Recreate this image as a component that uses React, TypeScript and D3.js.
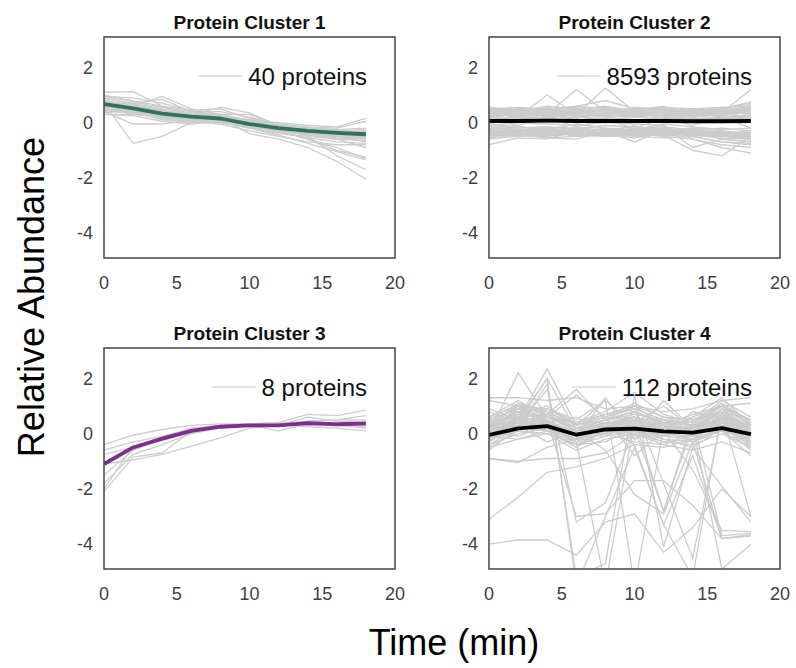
import React from "react";
import * as d3 from "d3";

const times = [0, 2, 4, 6, 8, 10, 12, 14, 16, 18];
const xTicks = [0, 5, 10, 15, 20];
const yTicks = [2, 0, -2, -4];
const titles = ["Protein Cluster 1", "Protein Cluster 2", "Protein Cluster 3", "Protein Cluster 4"];
const legendLabels = ["40 proteins", "8593 proteins", "8 proteins", "112 proteins"];
const meanColors = ["#2f7553", "#000000", "#7e2f8e", "#000000"];

const mean1 = [0.67, 0.52, 0.33, 0.22, 0.15, -0.05, -0.2, -0.3, -0.37, -0.42];
const mean2 = [0.06, 0.06, 0.07, 0.06, 0.06, 0.06, 0.06, 0.05, 0.05, 0.06];
const mean3 = [-1.1, -0.5, -0.18, 0.1, 0.25, 0.3, 0.3, 0.38, 0.34, 0.37];
const mean4 = [-0.05, 0.19, 0.27, -0.04, 0.15, 0.18, 0.08, 0.04, 0.2, -0.02];

const cluster1 = [
  [0.9, 0.7, 0.5, 0.35, 0.3, 0.05, -0.1, -0.2, -0.3, -0.35],
  [0.5, 0.45, 0.3, 0.2, 0.1, -0.1, -0.25, -0.4, -0.5, -0.55],
  [1.1, 1.12, 0.6, 0.45, 0.25, 0.1, -0.1, -0.3, -0.35, -0.3],
  [0.7, -0.75, -0.5, 0.0, 0.05, -0.1, -0.2, -0.3, -0.4, -0.45],
  [0.4, -0.05, -0.05, 0.1, 0.15, -0.05, -0.3, -0.6, -0.9, -1.3],
  [0.8, 0.6, 0.95, 0.5, 0.3, 0.0, -0.3, -0.6, -1.0, -1.25],
  [0.6, 0.55, 0.35, 0.3, 0.55, 0.35, -0.1, -0.5, -1.2, -1.7],
  [0.5, 0.4, 0.3, 0.2, 0.15, -0.4, -0.6, -0.9, -1.4, -2.05],
  [0.3, 0.3, 0.2, 0.05, -0.05, -0.3, -0.5, -0.7, -0.8, -0.8],
  [0.95, 0.8, 0.6, 0.3, 0.2, 0.1, 0.0, -0.1, -0.15, 0.15],
  [0.6, 0.45, 0.2, 0.1, 0.0, -0.2, -0.3, -0.35, -0.45, -0.5],
  [0.75, 0.65, 0.45, 0.3, 0.2, 0.0, -0.15, -0.25, -0.3, -0.25],
  [0.35, 0.5, 0.4, 0.25, 0.1, -0.15, -0.35, -0.55, -0.7, -0.75],
  [1.0, 0.75, 0.55, 0.4, 0.4, 0.2, -0.05, -0.15, -0.2, 0.05],
  [0.55, 0.6, 0.25, 0.15, 0.05, -0.1, -0.2, -0.3, -0.35, -0.4],
  [0.85, 0.5, 0.35, 0.25, 0.15, -0.05, -0.25, -0.45, -0.55, -0.6],
  [0.45, 0.35, 0.15, 0.0, 0.0, -0.2, -0.45, -0.75, -1.05, -1.35],
  [0.65, 0.7, 0.85, 0.4, 0.25, 0.05, -0.2, -0.4, -0.5, -0.55],
  [0.7, 0.4, 0.1, 0.05, 0.1, -0.05, -0.15, -0.2, -0.25, -0.2],
  [0.3, 0.25, 0.05, -0.05, 0.05, -0.2, -0.4, -0.5, -0.6, -0.65],
  [0.95, 0.9, 0.7, 0.45, 0.5, 0.15, -0.05, -0.35, -0.5, -0.7],
  [0.5, 0.3, 0.2, 0.1, 0.3, 0.3, -0.1, -0.25, -0.4, -0.5],
  [0.8, 0.55, 0.4, 0.35, 0.25, 0.0, -0.2, -0.35, -0.45, -0.3],
  [0.4, 0.35, 0.3, 0.15, 0.2, -0.1, -0.3, -0.45, -0.6, -0.9],
  [0.6, 0.5, 0.35, 0.25, 0.2, 0.0, -0.15, -0.25, -0.35, -0.4],
  [0.75, 0.55, 0.3, 0.2, 0.1, -0.05, -0.2, -0.3, -0.4, -0.45],
  [0.55, 0.45, 0.25, 0.15, 0.1, -0.1, -0.25, -0.35, -0.4, -0.35],
  [0.65, 0.6, 0.4, 0.3, 0.15, -0.05, -0.15, -0.3, -0.3, -0.5],
  [0.8, 0.6, 0.45, 0.2, 0.2, 0.05, -0.1, -0.2, -0.35, -0.45],
  [0.5, 0.35, 0.25, 0.2, 0.05, -0.15, -0.25, -0.35, -0.45, -0.6],
  [0.7, 0.5, 0.3, 0.15, 0.15, -0.05, -0.2, -0.3, -0.3, -0.35],
  [0.6, 0.55, 0.3, 0.3, 0.2, 0.05, -0.15, -0.3, -0.4, -0.3],
  [0.9, 0.65, 0.4, 0.25, 0.1, -0.1, -0.3, -0.45, -0.5, -0.55],
  [0.45, 0.4, 0.35, 0.2, 0.25, 0.0, -0.2, -0.25, -0.3, -0.45],
  [0.7, 0.45, 0.25, 0.1, 0.05, -0.15, -0.25, -0.4, -0.45, -0.5],
  [0.55, 0.5, 0.4, 0.25, 0.3, 0.1, -0.1, -0.2, -0.25, -0.4],
];

const cluster2 = [
  [0.5, 0.45, 0.5, 0.4, 0.45, 0.5, 0.45, 0.4, 0.45, 0.55],
  [-0.45, -0.4, -0.35, -0.45, -0.4, -0.35, -0.4, -0.45, -0.5, -0.5],
  [0.3, 0.35, 0.25, 0.4, 0.3, 0.35, 0.3, 0.25, 0.3, 0.35],
  [-0.2, -0.25, -0.3, -0.2, -0.25, -0.3, -0.2, -0.35, -0.3, -0.4],
  [0.1, 0.2, 1.0, 0.3, 0.2, 0.1, 0.15, 0.1, 0.2, 0.15],
  [0.2, 0.1, 0.3, 1.2, 0.4, 0.3, 0.2, 0.15, 0.1, 0.2],
  [0.0, 0.15, 0.2, 0.3, 1.25, 0.4, 0.2, 0.1, 0.15, 0.3],
  [-0.8, -0.55, -0.6, -0.3, -0.5, -0.3, -0.35, -0.4, -0.6, -0.7],
  [0.4, 0.3, 0.35, 0.5, 0.35, 0.45, 0.6, 0.3, 0.35, 1.2],
  [-0.3, -0.35, -0.55, -0.6, -0.3, -0.7, -0.25, -0.3, -0.5, -0.6],
  [0.55, 0.4, 0.6, 0.5, 0.6, 0.4, 0.55, 0.35, 0.5, 0.7],
  [-0.5, -0.45, -0.4, -0.45, -0.5, -0.45, -0.45, -1.0, -1.2, -0.5],
  [0.15, 0.05, 0.1, 0.0, 0.05, 0.1, 0.0, 0.05, 0.1, 0.0],
  [-0.1, 0.0, -0.05, -0.1, 0.0, -0.05, -0.1, -0.6, -0.9, -1.1],
  [0.35, 0.5, 0.4, 0.6, 0.8, 0.5, 0.45, 0.4, 0.5, 0.4],
  [-0.35, -0.3, -0.2, -0.3, -0.35, -0.2, -0.3, -0.5, -0.7, -0.8],
  [0.25, 0.3, 0.45, 0.2, 0.3, 0.5, 0.35, 0.3, 0.25, 0.45],
  [-0.6, -0.5, -0.3, -0.4, -0.2, -0.4, -0.5, -0.3, -0.4, -0.3],
  [0.45, 0.55, 0.35, 0.45, 0.4, 0.55, 0.5, 0.45, 0.55, 0.6],
  [-0.25, -0.1, -0.4, -0.15, -0.45, -0.2, -0.15, -0.9, -0.6, -0.7],
  [0.05, 0.25, 0.0, 0.2, 0.15, 0.0, 0.25, 0.2, 0.0, 0.1],
  [-0.15, -0.2, -0.15, -0.25, -0.1, -0.15, -0.25, -0.2, -0.6, -0.55],
  [0.5, 0.35, 0.55, 0.35, 0.5, 0.35, 0.4, 0.5, 0.4, 0.5],
  [-0.4, -0.3, -0.45, -0.35, -0.3, -0.5, -0.35, -0.4, -0.45, -0.35],
  [0.2, 0.4, 0.3, 0.25, 0.55, 0.25, 0.4, 0.3, 0.4, 0.3],
  [-0.05, -0.15, -0.25, -0.05, -0.2, -0.25, -0.05, -0.15, -0.25, -0.2],
  [0.35, 0.2, 0.15, 0.35, 0.25, 0.2, 0.3, 0.35, 0.2, 0.25],
  [-0.3, -0.45, -0.2, -0.5, -0.35, -0.1, -0.45, -0.25, -0.35, -0.45],
  [0.1, -0.1, 0.2, -0.15, 0.1, -0.2, 0.15, -0.1, 0.2, -0.2],
  [0.45, 0.3, 0.25, 0.55, 0.2, 0.3, 0.5, 0.25, 0.3, 0.65],
  [0.4, 0.5, 0.45, 0.55, 0.4, 0.5, 0.45, 0.5, 0.4, 0.5],
  [-0.4, -0.5, -0.45, -0.4, -0.5, -0.4, -0.45, -0.5, -0.45, -0.4],
  [0.3, 0.4, 0.35, 0.45, 0.4, 0.3, 0.4, 0.35, 0.45, 0.4],
  [-0.3, -0.4, -0.35, -0.3, -0.4, -0.35, -0.3, -0.4, -0.35, -0.45],
  [0.2, 0.3, 0.25, 0.3, 0.35, 0.25, 0.3, 0.25, 0.3, 0.35],
  [-0.2, -0.3, -0.25, -0.35, -0.2, -0.3, -0.25, -0.3, -0.4, -0.35],
  [0.55, 0.45, 0.4, 0.5, 0.55, 0.45, 0.5, 0.4, 0.45, 0.5],
  [-0.5, -0.35, -0.5, -0.4, -0.45, -0.55, -0.4, -0.35, -0.55, -0.6],
  [0.1, 0.25, 0.15, 0.2, 0.1, 0.2, 0.15, 0.25, 0.15, 0.2],
  [-0.1, -0.2, -0.15, -0.2, -0.1, -0.2, -0.15, -0.25, -0.2, -0.3],
  [0.4, 0.35, 0.5, 0.3, 0.45, 0.4, 0.35, 0.45, 0.35, 0.45],
  [-0.35, -0.25, -0.4, -0.25, -0.4, -0.3, -0.4, -0.25, -0.45, -0.55],
  [0.25, 0.45, 0.2, 0.4, 0.25, 0.45, 0.25, 0.35, 0.25, 0.4],
  [-0.45, -0.3, -0.3, -0.5, -0.25, -0.45, -0.3, -0.45, -0.3, -0.65],
  [0.5, 0.55, 0.5, 0.6, 0.5, 0.45, 0.55, 0.5, 0.55, 0.5],
  [-0.55, -0.45, -0.55, -0.5, -0.45, -0.5, -0.55, -0.5, -0.7, -0.75],
  [0.35, 0.25, 0.4, 0.25, 0.35, 0.25, 0.45, 0.35, 0.4, 0.3],
  [-0.25, -0.35, -0.2, -0.4, -0.3, -0.4, -0.2, -0.45, -0.5, -0.45],
  [0.15, 0.35, 0.3, 0.15, 0.4, 0.35, 0.2, 0.4, 0.35, 0.15],
  [-0.15, -0.25, -0.35, -0.2, -0.35, -0.25, -0.35, -0.2, -0.3, -0.5],
  [0.45, 0.4, 0.3, 0.45, 0.3, 0.4, 0.3, 0.45, 0.5, 0.75],
  [-0.4, -0.45, -0.5, -0.3, -0.45, -0.35, -0.5, -0.6, -0.8, -0.9],
];

const cluster3 = [
  [-0.4, -0.05, 0.15, 0.3, 0.35, 0.35, 0.3, 0.45, 0.5, 0.5],
  [-0.6, -0.3, -0.1, 0.2, 0.3, 0.35, 0.4, 0.7, 0.65, 0.85],
  [-0.75, -0.5, -0.2, 0.1, 0.25, 0.3, 0.1, 0.35, 0.3, 0.2],
  [-1.1, -0.95, -0.75, -0.45, -0.15, 0.2, 0.35, 0.45, 0.5, 0.65],
  [-1.5, -0.6, -0.2, 0.15, 0.3, 0.3, 0.3, 0.6, 0.45, 0.4],
  [-1.8, -0.75, -0.4, 0.0, 0.2, 0.3, 0.35, 0.25, 0.2, 0.1],
  [-2.0, -0.45, -0.25, 0.05, 0.25, 0.35, 0.4, 0.3, 0.35, 0.25],
  [-2.1, -0.85, -0.7, 0.1, 0.25, 0.3, 0.3, 0.35, 0.3, 0.3],
];

const cluster4 = [
  [0.2, 0.9, 0.6, 0.1, 0.3, 0.5, 0.2, 0.1, 0.9, 0.2],
  [-0.3, 0.5, 0.3, -0.4, 0.1, 0.2, 0.0, -0.2, 0.6, -0.3],
  [0.5, 1.1, 0.8, 0.2, 0.5, 0.8, 0.4, 0.3, 1.1, 0.4],
  [-0.5, -0.2, 0.0, -0.6, -0.2, 0.0, -0.3, -0.4, 0.0, -0.5],
  [0.1, 0.3, 0.5, -0.1, 0.3, 0.2, 0.5, 0.3, 0.4, 0.1],
  [-0.2, 0.1, 0.4, 0.0, -0.1, 0.5, 0.1, 0.0, 0.3, -0.1],
  [0.4, 0.7, 1.0, 0.3, 0.6, 1.1, 0.6, 0.5, 0.8, 0.5],
  [-0.1, 0.4, 0.2, -0.3, 0.3, -0.2, 0.2, 0.2, 0.5, 0.0],
  [0.3, 1.0, 0.5, 0.0, 0.0, 0.4, -0.1, 0.6, 1.0, 0.3],
  [-0.4, 0.0, 0.2, -0.5, 0.2, 0.3, -0.2, -0.5, 0.2, -0.4],
  [0.0, 0.6, 0.7, 0.1, 0.4, 0.1, 0.3, -0.1, 0.7, 0.2],
  [0.2, -0.1, 0.3, -0.2, 0.5, 0.6, 0.0, 0.1, 0.1, -0.2],
  [-0.6, 0.2, 0.1, -0.2, 0.0, -0.3, -0.4, 0.0, 0.3, -0.6],
  [0.6, 1.2, 0.6, 0.4, 0.8, 1.5, 0.7, 0.4, 1.2, 0.6],
  [0.1, 0.8, 0.4, -0.1, 0.2, 0.4, 1.0, 0.2, 0.6, 0.0],
  [-0.2, 0.3, 0.6, 0.2, 0.1, 0.1, -0.1, 0.8, 0.4, -0.3],
  [0.3, 0.5, 0.9, 0.5, 1.2, 0.3, 0.2, 0.0, 0.9, 0.5],
  [-0.3, 0.6, 0.1, -0.4, -0.3, 0.2, 0.3, -0.3, 0.1, -0.8],
  [0.5, 0.2, 0.4, 0.6, 0.0, 0.8, 0.4, 0.6, 1.3, 0.3],
  [0.0, 1.0, 0.3, 0.1, 0.4, -0.1, 0.6, 0.3, 0.5, -0.5],
  [-0.9, -1.0, -0.9, -0.9, -0.7, 0.0, -0.4, -0.6, -0.3, -0.7],
  [1.3, 1.3, 1.2, 1.3, 0.9, 1.0, 0.8, 0.9, 1.2, 1.3],
  [0.8, 0.4, 2.0, 0.1, 0.3, 0.0, 1.2, 0.2, 0.5, 0.1],
  [0.0, 2.2, 0.6, 0.4, 0.2, 0.6, 0.1, 0.3, 0.3, 0.2],
  [0.9, 0.5, 2.35, 0.3, 0.5, 0.2, 0.4, 0.1, 0.6, 0.3],
  [1.2, 1.0, 0.7, 1.6, 0.5, 1.0, 0.3, 0.7, 1.0, 1.1],
  [-0.9, -1.05, -0.5, -0.2, 1.3, -0.2, 0.5, 0.0, 0.4, 0.2],
  [0.3, 0.8, 0.5, 0.0, 0.4, 0.6, 0.3, 0.2, 0.8, 0.1],
  [-0.2, 0.6, 0.4, -0.2, 0.2, 0.4, 0.1, 0.0, 0.7, -0.2],
  [0.4, 1.0, 0.7, 0.2, 0.5, 0.7, 0.5, 0.4, 1.0, 0.3],
  [-0.4, 0.2, 0.2, -0.3, 0.0, 0.1, -0.2, -0.3, 0.2, -0.4],
  [0.2, 0.7, 0.6, 0.1, 0.4, 0.5, 0.3, 0.1, 0.8, 0.2],
  [0.0, 0.9, 0.3, -0.2, 0.3, 0.6, 0.0, 0.2, 0.9, 0.0],
  [0.1, 0.5, 0.5, 0.0, 0.2, 0.3, 0.2, 0.1, 0.6, 0.1],
  [-0.3, 0.3, 0.1, -0.5, 0.1, 0.2, -0.1, -0.2, 0.4, -0.3],
  [0.5, 0.9, 0.8, 0.3, 0.6, 0.9, 0.5, 0.3, 1.1, 0.4],
  [-0.1, 0.4, 0.3, -0.1, 0.3, 0.4, 0.2, 0.0, 0.5, -0.1],
  [0.2, 1.1, 0.4, 0.1, 0.5, 0.8, 0.3, 0.2, 1.0, 0.3],
  [-0.5, 0.1, 0.0, -0.4, -0.1, 0.1, -0.3, -0.2, 0.1, -0.5],
  [0.3, 0.6, 0.7, 0.2, 0.3, 0.6, 0.4, 0.3, 0.7, 0.2],
  [0.1, 0.8, 0.5, -0.1, 0.2, 0.5, 0.1, 0.2, 0.8, 0.0],
  [-0.2, 0.5, 0.2, -0.3, 0.4, 0.3, 0.0, -0.1, 0.5, -0.2],
  [0.6, 1.0, 0.9, 0.4, 0.7, 1.0, 0.6, 0.5, 1.0, 0.5],
  [0.0, 0.3, 0.4, 0.0, 0.1, 0.2, 0.1, 0.0, 0.3, -0.1],
  [-0.3, 0.7, 0.3, -0.2, 0.2, 0.5, -0.1, 0.1, 0.6, -0.4],
  [-3.1, -2.3, -1.4, -1.2, -0.9, -0.4, -0.5, -0.2, 0.2, -0.3],
  [-4.0, -3.85, -3.85, -4.4, -3.2, -2.9, -4.3, -3.4, -2.0, -3.0],
  [0.2, 0.5, 2.0, -5.5, -3.0, -0.5, -3.3, -0.8, -3.8, -3.7],
  [0.0, 0.3, 1.6, -3.2, -2.5, 0.2, -2.8, 0.5, -3.7, -3.6],
  [0.3, 0.8, 0.5, -3.0, -2.9, -1.7, -1.7, -2.6, -3.8, -3.65],
  [-0.2, 0.2, 1.8, -5.2, -4.7, 1.4, -4.1, -0.5, -1.9, -3.2],
  [0.1, 0.4, 0.3, -0.3, -5.5, 0.5, -2.8, 0.3, -4.9, -4.0],
  [0.4, 0.6, 0.2, 0.1, 0.3, -0.4, -3.3, -5.2, 0.8, -3.0],
  [0.0, 0.5, 0.6, 1.4, 0.6, -0.8, 0.1, -1.3, -3.5, -3.55],
  [-0.1, -0.2, 0.1, 0.3, 1.2, -5.5, 0.2, 0.3, 1.0, 0.3],
  [0.6, 0.1, 0.9, 0.3, 0.7, 0.9, -1.8, -4.5, 0.6, 0.2],
  [0.2, 0.3, -0.3, 0.1, -0.6, -2.2, -2.9, -0.3, -3.8, -3.7],
];

const clusters = [cluster1, cluster2, cluster3, cluster4];
const means = [mean1, mean2, mean3, mean4];

const FONT = "'Liberation Sans', Arial, Helvetica, sans-serif";
const panelOrigins = [
  [104, 37],
  [489, 37],
  [104, 348],
  [489, 348],
];
const PW = 291;
const PH = 221;

function measure(text: string, font: string): number {
  if (typeof document === "undefined") return text.length * 12;
  const c = document.createElement("canvas").getContext("2d");
  if (!c) return text.length * 12;
  c.font = font;
  return c.measureText(text).width;
}

function Panel({ idx }: { idx: number }) {
  const [x0, y0] = panelOrigins[idx];
  const x = d3.scaleLinear().domain([0, 20]).range([x0, x0 + PW]);
  const y = d3.scaleLinear().domain([-4.9, 3.1]).range([y0 + PH, y0]);
  const line = d3
    .line<number>()
    .x((_, i) => x(times[i]))
    .y((d) => y(d));
  const clipId = `clip${idx}`;
  const label = legendLabels[idx];
  const textEnd = x0 + PW - 28;
  const tw = measure(label, `24px ${FONT}`);
  const textStart = textEnd - tw;
  const legY = y0 + 39;
  return (
    <g>
      <defs>
        <clipPath id={clipId}>
          <rect x={x0} y={y0} width={PW} height={PH} />
        </clipPath>
      </defs>
      <rect x={x0} y={y0} width={PW} height={PH} fill="#fff" />
      <g clipPath={`url(#${clipId})`}>
        {clusters[idx].map((s, i) => (
          <path key={i} d={line(s) || ""} fill="none" stroke="#cccccc" strokeWidth={1.3} />
        ))}
        <path d={line(means[idx]) || ""} fill="none" stroke={meanColors[idx]} strokeWidth={3.8} strokeLinejoin="round" />
      </g>
      <rect x={x0} y={y0} width={PW} height={PH} fill="none" stroke="#444" strokeWidth={1.5} />
      <line x1={textStart - 50} x2={textStart - 6} y1={legY} y2={legY} stroke="#c8c8c8" strokeWidth={1} />
      <text x={textEnd} y={legY + 9} textAnchor="end" fontFamily={FONT} fontSize={24} fill="#111">
        {label}
      </text>
      <text x={x0 + PW / 2} y={y0 - 8} textAnchor="middle" fontFamily={FONT} fontSize={19} fontWeight="bold" fill="#111">
        {titles[idx]}
      </text>
      {yTicks.map((t) => (
        <text key={t} x={x0 - 11} y={y(t)} dy="0.35em" textAnchor="end" fontFamily={FONT} fontSize={18} fill="#404040">
          {t}
        </text>
      ))}
      {xTicks.map((t) => (
        <text key={t} x={x(t)} y={y0 + PH + 31} textAnchor="middle" fontFamily={FONT} fontSize={18} fill="#404040">
          {t}
        </text>
      ))}
    </g>
  );
}

export default function App() {
  return (
    <svg width={796} height={668} style={{ position: "absolute", left: 0, top: 0, background: "#fff" }}>
      <rect width={796} height={668} fill="#fff" />
      {[0, 1, 2, 3].map((i) => (
        <Panel key={i} idx={i} />
      ))}
      <text x={44} y={297} transform="rotate(-90 44 297)" textAnchor="middle" fontFamily={FONT} fontSize={36} fill="#000">
        Relative Abundance
      </text>
      <text x={454} y={655} textAnchor="middle" fontFamily={FONT} fontSize={36} fill="#000">
        Time (min)
      </text>
    </svg>
  );
}
